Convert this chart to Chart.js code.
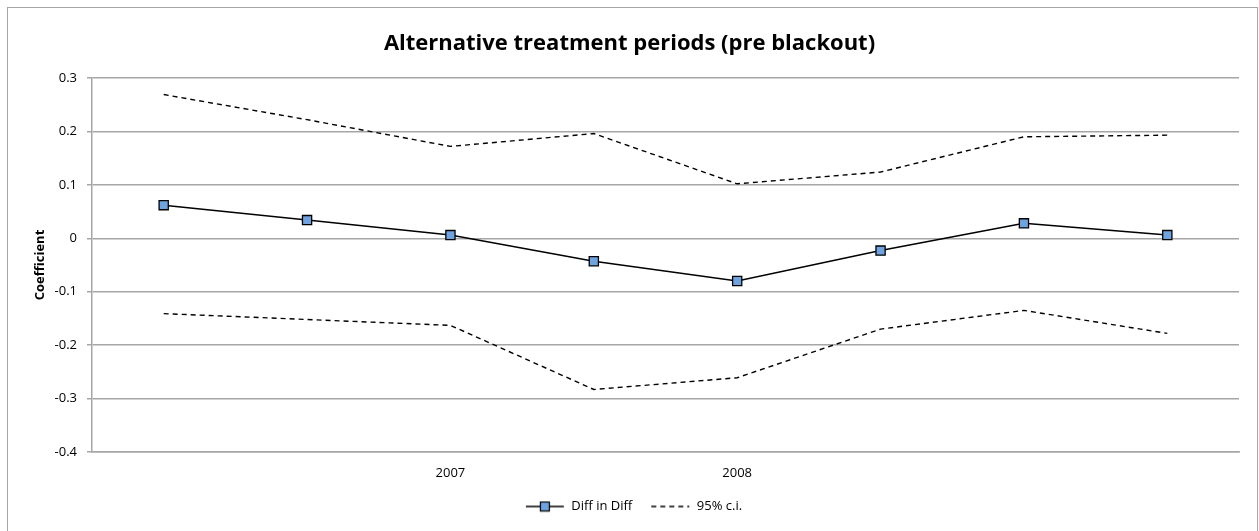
<!DOCTYPE html>
<html>
<head>
<meta charset="utf-8">
<script src="https://cdn.jsdelivr.net/npm/chart.js@4/dist/chart.umd.min.js"></script>
<style>
  html, body { margin: 0; padding: 0; background: #fff; }
  #wrap { width: 1259px; height: 531px; position: relative; }
</style>
</head>
<body>
<div id="wrap"><canvas id="c"></canvas></div>
<script>
// Period categories; only two carry a year label on the axis
const categories = ["", "", "2007", "", "2008", "", "", ""];
// Difference-in-differences point estimates
const diffInDiff = [0.062, 0.034, 0.006, -0.043, -0.080, -0.023, 0.028, 0.006];
// 95% confidence interval bounds
const ciUpper = [0.269, 0.222, 0.172, 0.196, 0.102, 0.124, 0.190, 0.193];
const ciLower = [-0.141, -0.152, -0.163, -0.283, -0.261, -0.170, -0.135, -0.178];
// Value axis ticks
const yTicks = [-0.4, -0.3, -0.2, -0.1, 0, 0.1, 0.2, 0.3];

const FONT = "'Open Sans', Lato, sans-serif";
const MARKER_FILL = '#6fa3e0';

// Legend symbols: a short line (drawn in the right 40px) with a square marker, or dashed
const SYM_W = 48;
function legendSymbol(dashed) {
  const cv = document.createElement('canvas');
  cv.width = SYM_W; cv.height = 12;
  const g = cv.getContext('2d');
  const x0 = SYM_W - 40;
  g.strokeStyle = '#000';
  g.lineWidth = 1.5;
  if (dashed) g.setLineDash([5, 4]);
  g.beginPath(); g.moveTo(x0 + 1, 6); g.lineTo(x0 + 39, 6); g.stroke();
  if (!dashed) {
    g.setLineDash([]);
    g.fillStyle = MARKER_FILL;
    g.fillRect(x0 + 15.5, 1.5, 9, 9);
    g.lineWidth = 1.2;
    g.strokeRect(x0 + 15.5, 1.5, 9, 9);
  }
  return cv;
}
const symLine = legendSymbol(false);
const symDash = legendSymbol(true);

// Outer frame around the whole chart
const framePlugin = {
  id: 'frame',
  beforeDraw(chart) {
    const ctx = chart.ctx;
    ctx.save();
    ctx.fillStyle = '#fff';
    ctx.fillRect(0, 0, chart.width, chart.height);
    ctx.strokeStyle = '#a6a6a6';
    ctx.lineWidth = 1;
    ctx.strokeRect(7.5, 7.5, chart.width - 9, chart.height + 20);
    ctx.restore();
  }
};

const ciStyle = {
  borderColor: '#000',
  borderWidth: 1.4,
  borderDash: [5, 4],
  pointRadius: 0,
  pointHoverRadius: 0,
  fill: false,
  tension: 0
};

new Chart(document.getElementById('c'), {
  type: 'line',
  data: {
    labels: categories,
    datasets: [
      {
        label: 'Diff in Diff',
        data: diffInDiff,
        borderColor: '#000',
        borderWidth: 1.5,
        pointStyle: 'rect',
        pointRadius: 6.5,
        pointBackgroundColor: MARKER_FILL,
        pointBorderColor: '#000',
        pointBorderWidth: 1.3,
        tension: 0,
        order: 0
      },
      Object.assign({ label: '95% c.i.', data: ciUpper, order: 1 }, ciStyle),
      Object.assign({ label: '95% c.i. (lower)', data: ciLower, order: 1 }, ciStyle)
    ]
  },
  options: {
    responsive: true,
    maintainAspectRatio: false,
    animation: false,
    layout: { padding: { left: 20, right: 20, top: 8, bottom: 8 } },
    plugins: {
      title: {
        display: true,
        text: 'Alternative treatment periods (pre blackout)',
        color: '#000',
        font: { family: FONT, size: 22, weight: 'bold' },
        padding: { top: 23, bottom: 20.6 }
      },
      legend: {
        position: 'bottom',
        labels: {
          color: '#000',
          font: { family: FONT, size: 13 },
          usePointStyle: true,
          pointStyleWidth: SYM_W,
          boxHeight: 12,
          padding: 10,
          generateLabels() {
            return [
              { text: 'Diff in Diff', pointStyle: symLine, fillStyle: 'transparent', strokeStyle: 'transparent', lineWidth: 0, datasetIndex: 0 },
              { text: '95% c.i.', pointStyle: symDash, fillStyle: 'transparent', strokeStyle: 'transparent', lineWidth: 0, datasetIndex: 1 }
            ];
          }
        }
      },
      tooltip: { enabled: false }
    },
    scales: {
      x: {
        offset: true,
        grid: { display: true, drawOnChartArea: false, drawTicks: false, color: '#a6a6a6' },
        border: { display: true, color: '#a6a6a6', width: 1.5 },
        ticks: {
          autoSkip: false,
          maxRotation: 0,
          padding: 13,
          color: '#000',
          font: { family: FONT, size: 13 }
        },
        afterFit(scale) { scale.height = 38; }
      },
      y: {
        min: yTicks[0],
        max: yTicks[yTicks.length - 1],
        afterBuildTicks(scale) { scale.ticks = yTicks.map(v => ({ value: v })); },
        grid: { color: '#a6a6a6', lineWidth: 1.5, tickLength: 5, drawTicks: true },
        border: { display: true, color: '#a6a6a6', width: 1.5 },
        ticks: {
          padding: 10,
          color: '#000',
          font: { family: FONT, size: 13 },
          callback: v => String(parseFloat(Number(v).toFixed(1)))
        },
        title: {
          display: true,
          text: 'Coefficient',
          color: '#000',
          font: { family: FONT, size: 13, weight: 'bold' },
          padding: { top: 12, bottom: 4 }
        },
        afterFit(scale) { scale.width = 72; }
      }
    }
  },
  plugins: [framePlugin]
});
</script>
</body>
</html>
